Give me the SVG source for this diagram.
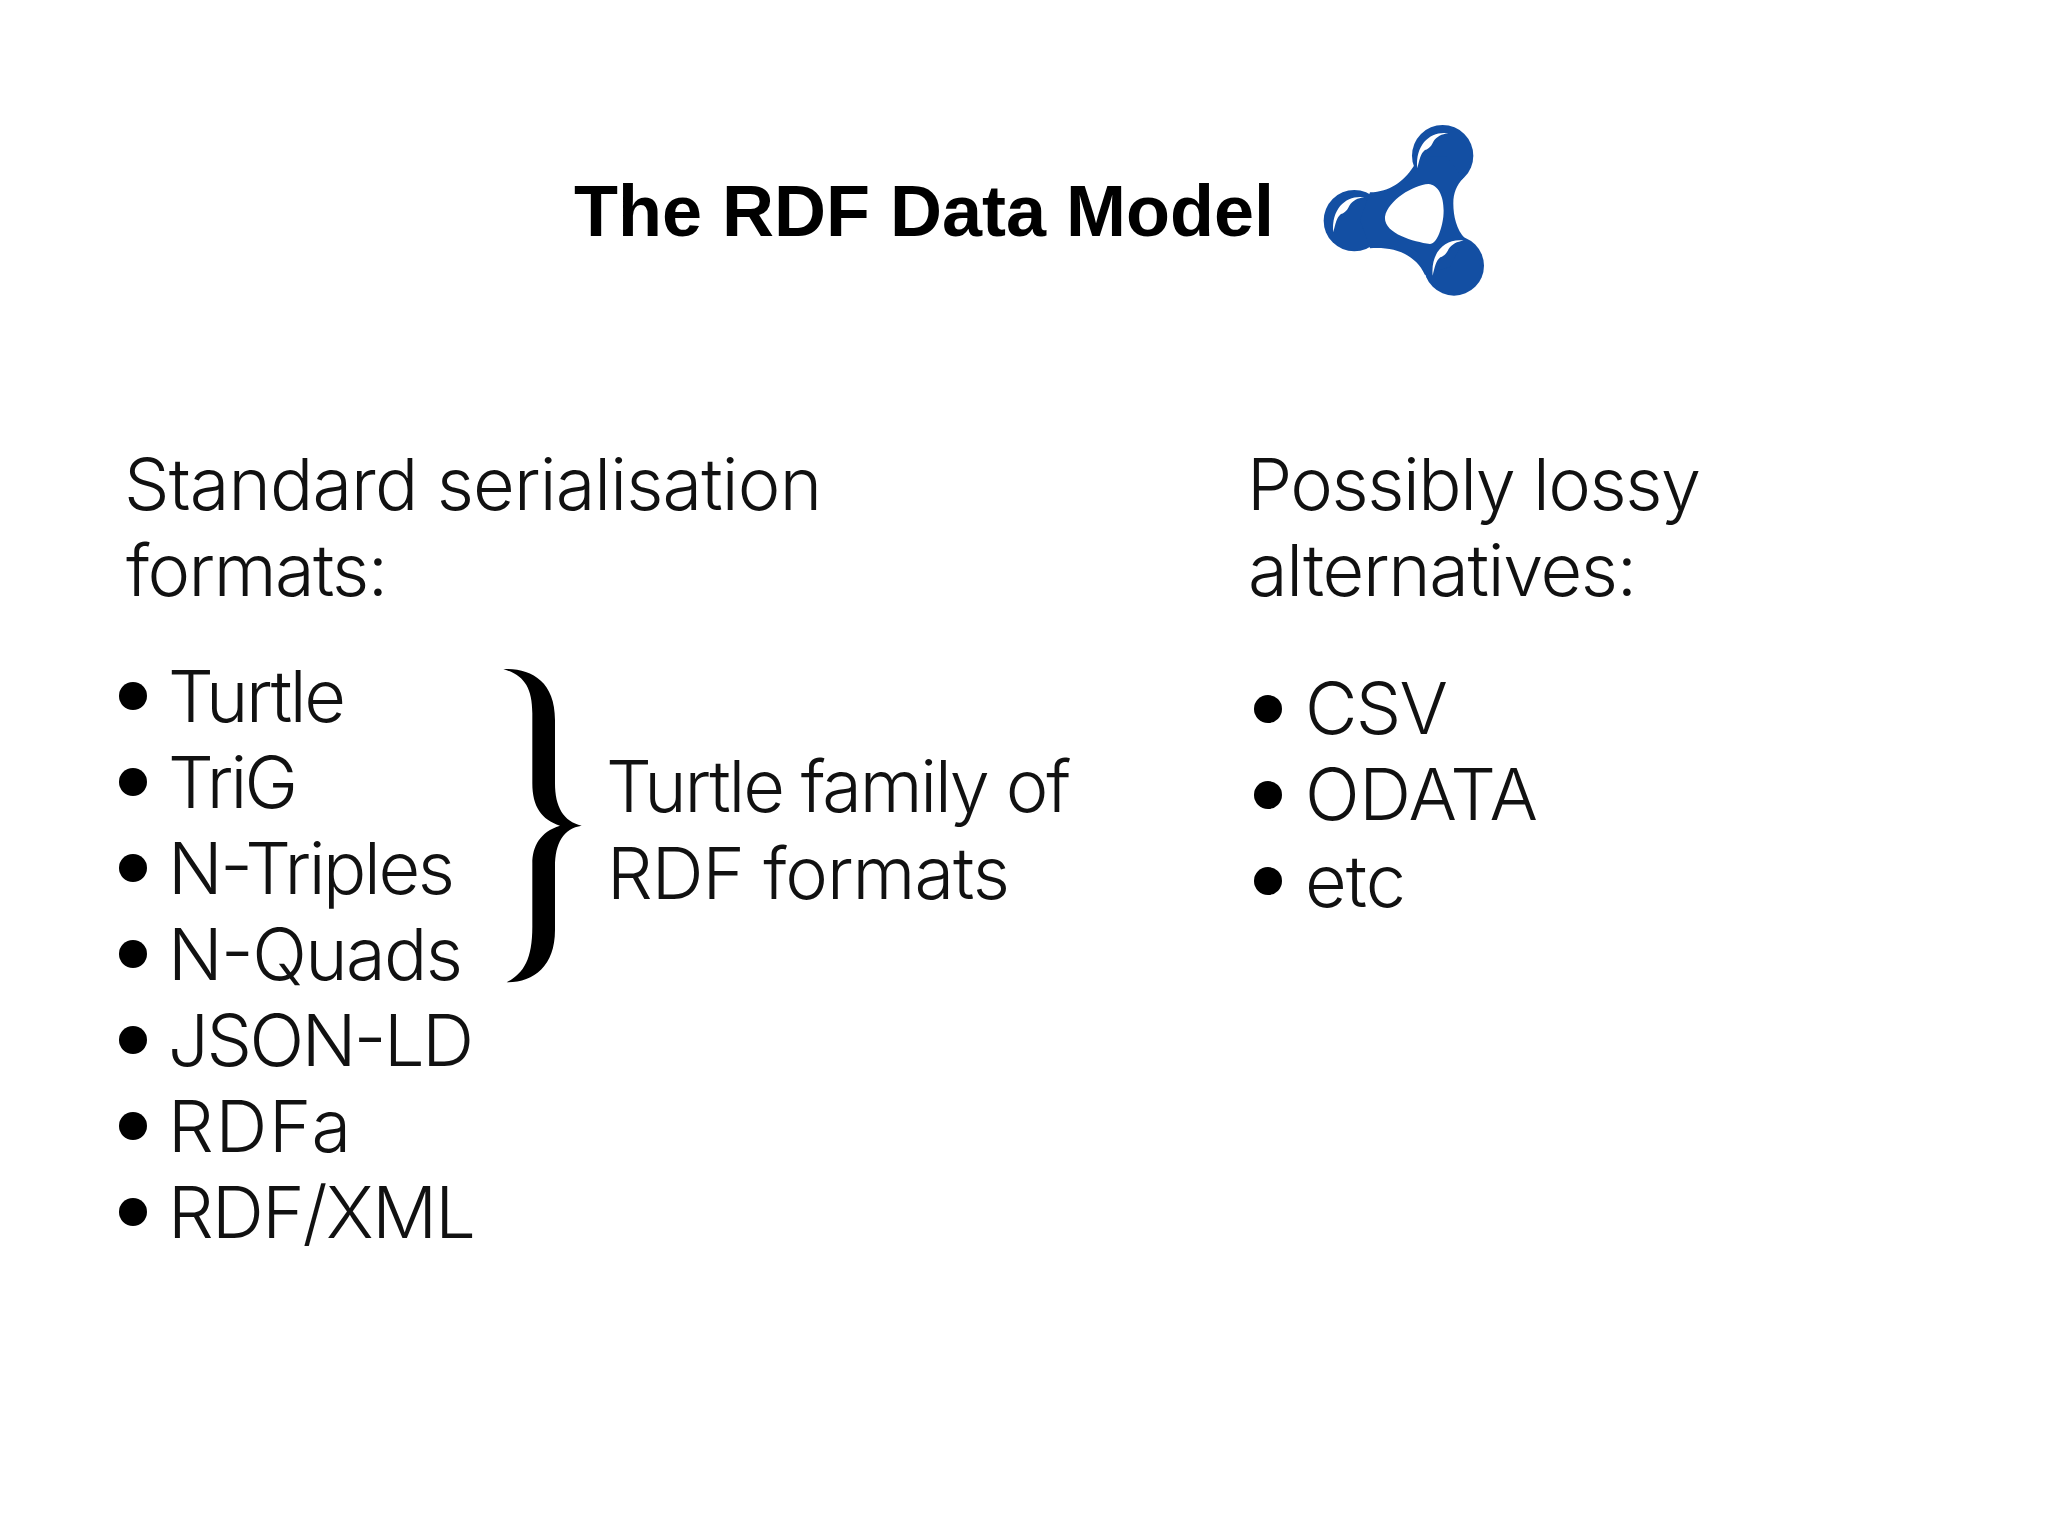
<svg xmlns="http://www.w3.org/2000/svg" width="2048" height="1536" viewBox="0 0 2048 1536">
<style>
text{font-family:"Inter","Liberation Sans",sans-serif;font-weight:300;font-size:72px;fill:#111}
.t{font-family:"Liberation Sans",Arial,sans-serif;font-weight:700;font-size:72px;fill:#000}
circle.b{fill:#000}
</style>
<defs><path id="hl" fill="#fff" d="M445 70C395 62 345 100 352 175C358 150 362 130 375 120C390 115 395 105 400 95C410 80 425 72 445 70Z"/></defs>
<rect width="2048" height="1536" fill="#fff"/>
<text class="t" x="574" y="236" textLength="700" lengthAdjust="spacingAndGlyphs">The RDF Data Model</text>
<g id="logo" transform="translate(1300 110) scale(.3333)">
<g fill="#134fa3">
<circle cx="428" cy="137" r="92"/><circle cx="163" cy="332" r="92"/><circle cx="462" cy="467" r="90"/>
<path fill-rule="evenodd" d="M360 140L340 170C310 215 270 245 210 247L180 330L210 415C280 410 345 430 375 495L450 470L495 385C470 360 460 320 460 280C460 250 470 225 490 205L440 140ZM255 320C265 270 340 225 385 222C420 225 435 270 430 320C425 360 410 400 390 402C340 395 250 370 255 320Z"/>
</g>
<use href="#hl"/>
<use href="#hl" transform="translate(-252 192)"/>
<use href="#hl" transform="translate(46 322)"/>
</g>
<g id="standard"><text x="124" y="510" textLength="698">Standard serialisation</text><text x="126" y="596" textLength="262">formats:</text></g>
<g id="formats">
<circle class="b" cx="133" cy="696" r="14"/><text x="168" y="722" textLength="178">Turtle</text>
<circle class="b" cx="133" cy="782" r="14"/><text x="168" y="808" textLength="130">TriG</text>
<circle class="b" cx="133" cy="868" r="14"/><text x="168" y="894" textLength="287">N-Triples</text>
<circle class="b" cx="133" cy="954" r="14"/><text x="168" y="980" textLength="295">N-Quads</text>
<circle class="b" cx="133" cy="1040" r="14"/><text x="168" y="1066" textLength="306">JSON-LD</text>
<circle class="b" cx="133" cy="1126" r="14"/><text x="168" y="1152" textLength="183">RDFa</text>
<circle class="b" cx="133" cy="1212" r="14"/><text x="168" y="1238" textLength="308">RDF/XML</text>
</g>
<path id="brace" transform="translate(480 650) scale(.3333)" fill="#000" d="M70 57C150 55 225 90 225 210L225 400C225 470 250 515 305 527C250 535 225 580 225 650L225 840C225 950 160 997 80 997C130 970 157 930 157 830L157 640C157 590 180 545 240 527C185 510 157 470 157 400L157 190C157 110 130 75 70 57Z"/>
<g id="family"><text x="606" y="812" textLength="465">Turtle family of</text><text x="607" y="899" textLength="403">RDF formats</text></g>
<g id="lossy"><text x="1247" y="510" textLength="454">Possibly lossy</text><text x="1248" y="596" textLength="389">alternatives:</text></g>
<g id="alternatives">
<circle class="b" cx="1268" cy="709" r="14"/><text x="1305" y="734" textLength="143">CSV</text>
<circle class="b" cx="1268" cy="795" r="14"/><text x="1305" y="820" textLength="233">ODATA</text>
<circle class="b" cx="1268" cy="881" r="14"/><text x="1305" y="907" textLength="101">etc</text>
</g>
</svg>
